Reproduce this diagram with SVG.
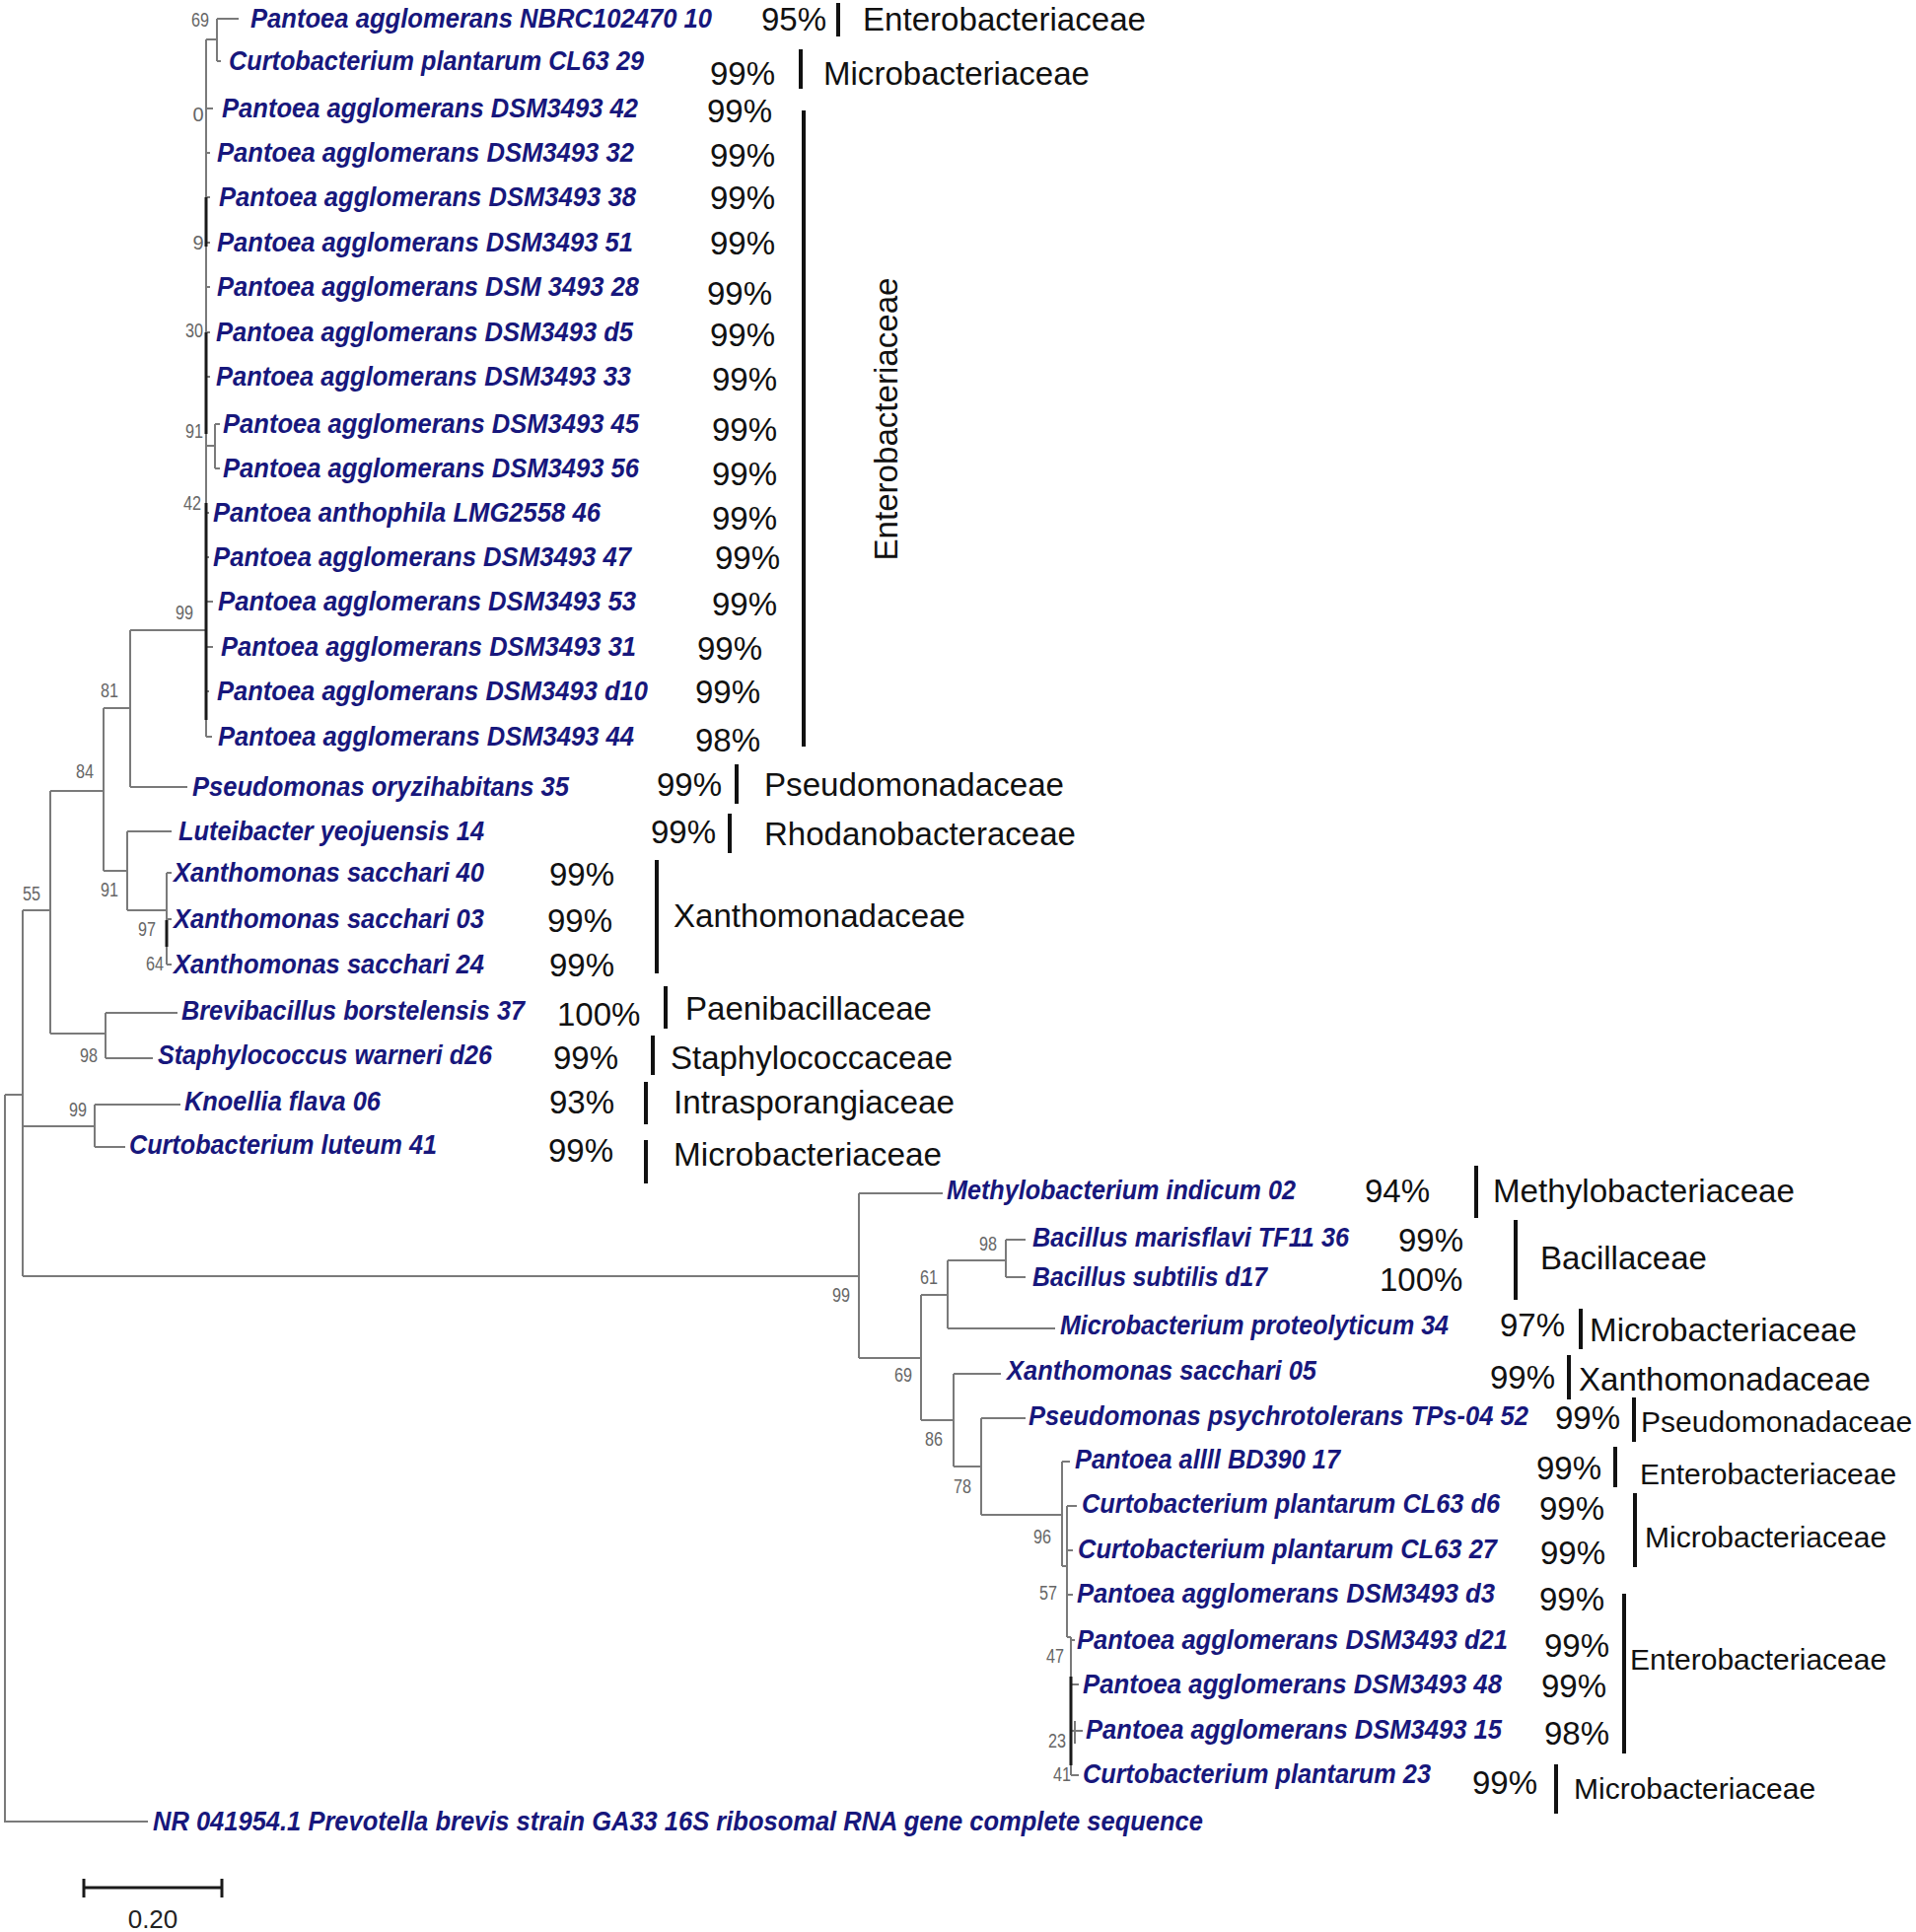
<svg xmlns="http://www.w3.org/2000/svg" width="1943" height="1959" viewBox="0 0 1943 1959">
<style>
.br{stroke:#7a7a7a;stroke-width:2;fill:none}
.bk{stroke:#1a1a1a;stroke-width:3;fill:none}
.bar{stroke:#111;stroke-width:4;fill:none}
.lb{font-family:"Liberation Sans",Arial,sans-serif;font-size:27px;font-weight:bold;font-style:italic;fill:#17177c}
.pc{font-family:"Liberation Sans",Arial,sans-serif;font-size:33px;fill:#111}
.fm{font-family:"Liberation Sans",Arial,sans-serif;font-size:33px;fill:#111}
.fs{font-family:"Liberation Sans",Arial,sans-serif;font-size:30px;fill:#111}
.bs{font-family:"Liberation Sans",Arial,sans-serif;font-size:20px;fill:#666;text-anchor:middle}
.sc{font-family:"Liberation Sans",Arial,sans-serif;font-size:26px;fill:#222;text-anchor:middle}
</style>
<rect width="1943" height="1959" fill="#fff"/>
<g id="connectors">
<path class="br" d="M5 1110H23 M5 1110V1847H150 M23 923V1294 M23 923H51 M51 802V1048 M51 802H105 M105 718V883 M105 718H132 M132 639V798 M132 639H209 M209 40V747 M209 40H220 M220 19V62 M220 19H242 M220 62H224 M209 110H216 M209 155H213 M209 200H213 M209 246H213 M209 291H213 M209 337H213 M209 382H213 M209 452H218 M218 430V475 M218 430H223 M218 475H223 M209 520H212 M209 565H212 M209 610H216 M209 656H216 M209 701H212 M209 747H215 M132 798H190 M105 883H129 M129 843V923 M129 843H174 M129 923H169 M169 885V978 M169 885H174 M169 932H174 M169 978H174 M51 1048H107 M107 1027V1073 M107 1027H180 M107 1073H155 M23 1142H96 M96 1120V1163 M96 1120H183 M96 1163H127 M23 1294H871 M871 1210V1377 M871 1210H956 M871 1377H934 M934 1313V1440 M934 1313H961 M961 1278V1347 M961 1278H1020 M1020 1257V1295 M1020 1257H1040 M1020 1295H1040 M961 1347H1070 M934 1440H967 M967 1393V1487 M967 1393H1015 M967 1487H995 M995 1438V1536 M995 1438H1040 M995 1536H1077 M1077 1482V1588 M1077 1482H1085 M1077 1588H1082 M1082 1527V1660 M1082 1527H1092 M1082 1572H1088 M1082 1617H1088 M1082 1660H1086 M1086 1660V1800 M1086 1663H1090 M1086 1708H1094 M1086 1755H1090 M1090 1745V1768 M1090 1755H1098 M1086 1800H1094"/>
<path class="bk" d="M209 200V250 M209 337V440 M209 510V730 M169 933V960 M1086 1700V1790"/>
</g>
<g id="bootstrap">
<text class="bs" x="203" y="27" textLength="18" lengthAdjust="spacingAndGlyphs">69</text>
<text class="bs" x="201" y="123">0</text>
<text class="bs" x="201" y="253">9</text>
<text class="bs" x="197" y="342" textLength="18" lengthAdjust="spacingAndGlyphs">30</text>
<text class="bs" x="197" y="444" textLength="18" lengthAdjust="spacingAndGlyphs">91</text>
<text class="bs" x="195" y="517" textLength="18" lengthAdjust="spacingAndGlyphs">42</text>
<text class="bs" x="187" y="628" textLength="18" lengthAdjust="spacingAndGlyphs">99</text>
<text class="bs" x="111" y="707" textLength="18" lengthAdjust="spacingAndGlyphs">81</text>
<text class="bs" x="86" y="789" textLength="18" lengthAdjust="spacingAndGlyphs">84</text>
<text class="bs" x="111" y="909" textLength="18" lengthAdjust="spacingAndGlyphs">91</text>
<text class="bs" x="149" y="949" textLength="18" lengthAdjust="spacingAndGlyphs">97</text>
<text class="bs" x="157" y="984" textLength="18" lengthAdjust="spacingAndGlyphs">64</text>
<text class="bs" x="32" y="913" textLength="18" lengthAdjust="spacingAndGlyphs">55</text>
<text class="bs" x="90" y="1077" textLength="18" lengthAdjust="spacingAndGlyphs">98</text>
<text class="bs" x="79" y="1132" textLength="18" lengthAdjust="spacingAndGlyphs">99</text>
<text class="bs" x="853" y="1320" textLength="18" lengthAdjust="spacingAndGlyphs">99</text>
<text class="bs" x="1002" y="1268" textLength="18" lengthAdjust="spacingAndGlyphs">98</text>
<text class="bs" x="942" y="1302" textLength="18" lengthAdjust="spacingAndGlyphs">61</text>
<text class="bs" x="916" y="1401" textLength="18" lengthAdjust="spacingAndGlyphs">69</text>
<text class="bs" x="947" y="1466" textLength="18" lengthAdjust="spacingAndGlyphs">86</text>
<text class="bs" x="976" y="1514" textLength="18" lengthAdjust="spacingAndGlyphs">78</text>
<text class="bs" x="1057" y="1565" textLength="18" lengthAdjust="spacingAndGlyphs">96</text>
<text class="bs" x="1063" y="1622" textLength="18" lengthAdjust="spacingAndGlyphs">57</text>
<text class="bs" x="1070" y="1686" textLength="18" lengthAdjust="spacingAndGlyphs">47</text>
<text class="bs" x="1072" y="1772" textLength="18" lengthAdjust="spacingAndGlyphs">23</text>
<text class="bs" x="1077" y="1806" textLength="18" lengthAdjust="spacingAndGlyphs">41</text>
</g>
<g id="t1"><text class="lb" x="254" y="28" textLength="468" lengthAdjust="spacingAndGlyphs">Pantoea agglomerans NBRC102470 10</text><text class="pc" x="772" y="31">95%</text></g>
<g id="t2"><text class="lb" x="232" y="71" textLength="421" lengthAdjust="spacingAndGlyphs">Curtobacterium plantarum CL63 29</text><text class="pc" x="720" y="86">99%</text></g>
<g id="t3"><text class="lb" x="225" y="119" textLength="422" lengthAdjust="spacingAndGlyphs">Pantoea agglomerans DSM3493 42</text><text class="pc" x="717" y="124">99%</text></g>
<g id="t4"><text class="lb" x="220" y="164" textLength="423" lengthAdjust="spacingAndGlyphs">Pantoea agglomerans DSM3493 32</text><text class="pc" x="720" y="169">99%</text></g>
<g id="t5"><text class="lb" x="222" y="209" textLength="423" lengthAdjust="spacingAndGlyphs">Pantoea agglomerans DSM3493 38</text><text class="pc" x="720" y="212">99%</text></g>
<g id="t6"><text class="lb" x="220" y="255" textLength="422" lengthAdjust="spacingAndGlyphs">Pantoea agglomerans DSM3493 51</text><text class="pc" x="720" y="258">99%</text></g>
<g id="t7"><text class="lb" x="220" y="300" textLength="428" lengthAdjust="spacingAndGlyphs">Pantoea agglomerans DSM 3493 28</text><text class="pc" x="717" y="309">99%</text></g>
<g id="t8"><text class="lb" x="219" y="346" textLength="423" lengthAdjust="spacingAndGlyphs">Pantoea agglomerans DSM3493 d5</text><text class="pc" x="720" y="351">99%</text></g>
<g id="t9"><text class="lb" x="219" y="391" textLength="421" lengthAdjust="spacingAndGlyphs">Pantoea agglomerans DSM3493 33</text><text class="pc" x="722" y="396">99%</text></g>
<g id="t10"><text class="lb" x="226" y="439" textLength="422" lengthAdjust="spacingAndGlyphs">Pantoea agglomerans DSM3493 45</text><text class="pc" x="722" y="447">99%</text></g>
<g id="t11"><text class="lb" x="226" y="484" textLength="422" lengthAdjust="spacingAndGlyphs">Pantoea agglomerans DSM3493 56</text><text class="pc" x="722" y="492">99%</text></g>
<g id="t12"><text class="lb" x="216" y="529" textLength="393" lengthAdjust="spacingAndGlyphs">Pantoea anthophila LMG2558 46</text><text class="pc" x="722" y="537">99%</text></g>
<g id="t13"><text class="lb" x="216" y="574" textLength="424" lengthAdjust="spacingAndGlyphs">Pantoea agglomerans DSM3493 47</text><text class="pc" x="725" y="577">99%</text></g>
<g id="t14"><text class="lb" x="221" y="619" textLength="424" lengthAdjust="spacingAndGlyphs">Pantoea agglomerans DSM3493 53</text><text class="pc" x="722" y="624">99%</text></g>
<g id="t15"><text class="lb" x="224" y="665" textLength="421" lengthAdjust="spacingAndGlyphs">Pantoea agglomerans DSM3493 31</text><text class="pc" x="707" y="669">99%</text></g>
<g id="t16"><text class="lb" x="220" y="710" textLength="437" lengthAdjust="spacingAndGlyphs">Pantoea agglomerans DSM3493 d10</text><text class="pc" x="705" y="713">99%</text></g>
<g id="t17"><text class="lb" x="221" y="756" textLength="422" lengthAdjust="spacingAndGlyphs">Pantoea agglomerans DSM3493 44</text><text class="pc" x="705" y="762">98%</text></g>
<g id="t18"><text class="lb" x="195" y="807" textLength="382" lengthAdjust="spacingAndGlyphs">Pseudomonas oryzihabitans 35</text><text class="pc" x="666" y="807">99%</text></g>
<g id="t19"><text class="lb" x="181" y="852" textLength="310" lengthAdjust="spacingAndGlyphs">Luteibacter yeojuensis 14</text><text class="pc" x="660" y="855">99%</text></g>
<g id="t20"><text class="lb" x="176" y="894" textLength="315" lengthAdjust="spacingAndGlyphs">Xanthomonas sacchari 40</text><text class="pc" x="557" y="898">99%</text></g>
<g id="t21"><text class="lb" x="176" y="941" textLength="315" lengthAdjust="spacingAndGlyphs">Xanthomonas sacchari 03</text><text class="pc" x="555" y="945">99%</text></g>
<g id="t22"><text class="lb" x="176" y="987" textLength="315" lengthAdjust="spacingAndGlyphs">Xanthomonas sacchari 24</text><text class="pc" x="557" y="990">99%</text></g>
<g id="t23"><text class="lb" x="184" y="1034" textLength="348" lengthAdjust="spacingAndGlyphs">Brevibacillus borstelensis 37</text><text class="pc" x="565" y="1040">100%</text></g>
<g id="t24"><text class="lb" x="160" y="1079" textLength="339" lengthAdjust="spacingAndGlyphs">Staphylococcus warneri d26</text><text class="pc" x="561" y="1084">99%</text></g>
<g id="t25"><text class="lb" x="187" y="1126" textLength="199" lengthAdjust="spacingAndGlyphs">Knoellia flava 06</text><text class="pc" x="557" y="1129">93%</text></g>
<g id="t26"><text class="lb" x="131" y="1170" textLength="312" lengthAdjust="spacingAndGlyphs">Curtobacterium luteum 41</text><text class="pc" x="556" y="1178">99%</text></g>
<g id="t27"><text class="lb" x="960" y="1216" textLength="354" lengthAdjust="spacingAndGlyphs">Methylobacterium indicum 02</text><text class="pc" x="1384" y="1219">94%</text></g>
<g id="t28"><text class="lb" x="1047" y="1264" textLength="321" lengthAdjust="spacingAndGlyphs">Bacillus marisflavi TF11 36</text><text class="pc" x="1418" y="1269">99%</text></g>
<g id="t29"><text class="lb" x="1047" y="1304" textLength="238" lengthAdjust="spacingAndGlyphs">Bacillus subtilis d17</text><text class="pc" x="1399" y="1309">100%</text></g>
<g id="t30"><text class="lb" x="1075" y="1353" textLength="394" lengthAdjust="spacingAndGlyphs">Microbacterium proteolyticum 34</text><text class="pc" x="1521" y="1355">97%</text></g>
<g id="t31"><text class="lb" x="1021" y="1399" textLength="314" lengthAdjust="spacingAndGlyphs">Xanthomonas sacchari 05</text><text class="pc" x="1511" y="1408">99%</text></g>
<g id="t32"><text class="lb" x="1043" y="1445" textLength="507" lengthAdjust="spacingAndGlyphs">Pseudomonas psychrotolerans TPs-04 52</text><text class="pc" x="1577" y="1449">99%</text></g>
<g id="t33"><text class="lb" x="1090" y="1489" textLength="269" lengthAdjust="spacingAndGlyphs">Pantoea allll BD390 17</text><text class="pc" x="1558" y="1500">99%</text></g>
<g id="t34"><text class="lb" x="1097" y="1534" textLength="424" lengthAdjust="spacingAndGlyphs">Curtobacterium plantarum CL63 d6</text><text class="pc" x="1561" y="1541">99%</text></g>
<g id="t35"><text class="lb" x="1093" y="1580" textLength="425" lengthAdjust="spacingAndGlyphs">Curtobacterium plantarum CL63 27</text><text class="pc" x="1562" y="1586">99%</text></g>
<g id="t36"><text class="lb" x="1092" y="1625" textLength="424" lengthAdjust="spacingAndGlyphs">Pantoea agglomerans DSM3493 d3</text><text class="pc" x="1561" y="1633">99%</text></g>
<g id="t37"><text class="lb" x="1092" y="1672" textLength="437" lengthAdjust="spacingAndGlyphs">Pantoea agglomerans DSM3493 d21</text><text class="pc" x="1566" y="1680">99%</text></g>
<g id="t38"><text class="lb" x="1098" y="1717" textLength="425" lengthAdjust="spacingAndGlyphs">Pantoea agglomerans DSM3493 48</text><text class="pc" x="1563" y="1721">99%</text></g>
<g id="t39"><text class="lb" x="1101" y="1763" textLength="422" lengthAdjust="spacingAndGlyphs">Pantoea agglomerans DSM3493 15</text><text class="pc" x="1566" y="1769">98%</text></g>
<g id="t40"><text class="lb" x="1098" y="1808" textLength="353" lengthAdjust="spacingAndGlyphs">Curtobacterium plantarum 23</text><text class="pc" x="1493" y="1819">99%</text></g>
<g id="t41"><text class="lb" x="155" y="1856" textLength="1065" lengthAdjust="spacingAndGlyphs">NR 041954.1 Prevotella brevis strain GA33 16S ribosomal RNA gene complete sequence</text></g>
<g id="families">
<path class="bar" d="M850 3V37 M812 50V90 M815 112V757 M747 775V815 M740 825V865 M666 872V987 M675 1000V1043 M662 1050V1090 M655 1097V1140 M655 1156V1200 M1497 1182V1235 M1537 1237V1318 M1603 1327V1368 M1591 1374V1419 M1657 1417V1462 M1638 1467V1508 M1658 1514V1589 M1647 1616V1778 M1578 1789V1839"/>
<text class="fm" x="875" y="31" textLength="287" lengthAdjust="spacingAndGlyphs">Enterobacteriaceae</text>
<text class="fm" x="835" y="86" textLength="270" lengthAdjust="spacingAndGlyphs">Microbacteriaceae</text>
<text class="fm" transform="translate(910,425) rotate(-90)" text-anchor="middle" textLength="287" lengthAdjust="spacingAndGlyphs">Enterobacteriaceae</text>
<text class="fm" x="775" y="807" textLength="304" lengthAdjust="spacingAndGlyphs">Pseudomonadaceae</text>
<text class="fm" x="775" y="857" textLength="316" lengthAdjust="spacingAndGlyphs">Rhodanobacteraceae</text>
<text class="fm" x="683" y="940" textLength="296" lengthAdjust="spacingAndGlyphs">Xanthomonadaceae</text>
<text class="fm" x="695" y="1034" textLength="250" lengthAdjust="spacingAndGlyphs">Paenibacillaceae</text>
<text class="fm" x="680" y="1084" textLength="286" lengthAdjust="spacingAndGlyphs">Staphylococcaceae</text>
<text class="fm" x="683" y="1129" textLength="285" lengthAdjust="spacingAndGlyphs">Intrasporangiaceae</text>
<text class="fm" x="683" y="1182" textLength="272" lengthAdjust="spacingAndGlyphs">Microbacteriaceae</text>
<text class="fm" x="1514" y="1219" textLength="306" lengthAdjust="spacingAndGlyphs">Methylobacteriaceae</text>
<text class="fm" x="1562" y="1287" textLength="169" lengthAdjust="spacingAndGlyphs">Bacillaceae</text>
<text class="fm" x="1612" y="1360" textLength="271" lengthAdjust="spacingAndGlyphs">Microbacteriaceae</text>
<text class="fm" x="1601" y="1410" textLength="296" lengthAdjust="spacingAndGlyphs">Xanthomonadaceae</text>
<text class="fs" x="1664" y="1452">Pseudomonadaceae</text>
<text class="fs" x="1663" y="1505">Enterobacteriaceae</text>
<text class="fs" x="1668" y="1569">Microbacteriaceae</text>
<text class="fs" x="1653" y="1693">Enterobacteriaceae</text>
<text class="fs" x="1596" y="1824">Microbacteriaceae</text>
</g>
<g id="scalebar">
<path class="bk" d="M85 1914H225 M85 1905V1924 M225 1905V1924"/>
<text class="sc" x="155" y="1955">0.20</text>
</g>
</svg>
